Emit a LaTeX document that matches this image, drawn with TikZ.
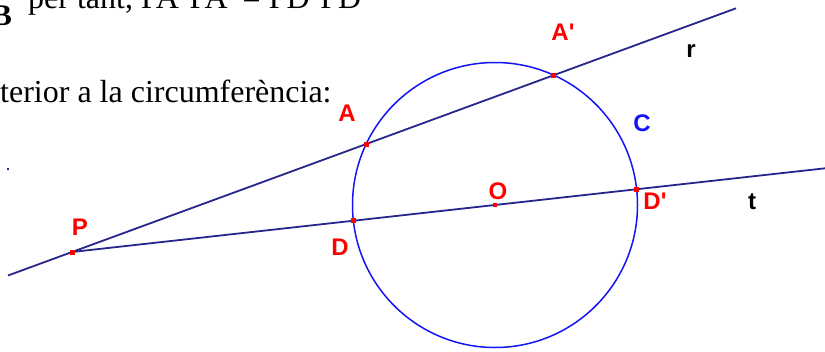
\documentclass[tikz,border=0pt]{standalone}
\usepackage{fontspec}
\setmainfont{Liberation Serif}
\newfontfamily\labfont{Liberation Sans}
\definecolor{navyline}{RGB}{38,38,140}
\definecolor{circblue}{RGB}{20,20,245}

\begin{document}
\begin{tikzpicture}[x=1pt,y=-1pt,
  lbl/.style={font=\labfont\bfseries\fontsize{24}{26}\selectfont,inner sep=0pt},
  pnt/.style={fill=red,inner sep=0pt,minimum size=5pt},
  txt/.style={font=\fontsize{32}{34}\selectfont,inner sep=0pt}]
\useasboundingbox (0,0) rectangle (825,351);
\fill[white] (0,0) rectangle (825,351);

\node[txt,anchor=base east,font=\bfseries\fontsize{30}{32}\selectfont] (bb) at (12,25) {B};
\node[txt,anchor=base west] (tant) at (28,8) {per tant, PA·PA' = PD·PD'};
\node[txt,anchor=base west] (ext) at (0,102) {terior a la circumferència:};

\coordinate (O) at (495,205);
\coordinate (P) at (72,252);
\coordinate (A) at (366.2,144);
\coordinate (A') at (553.8,75.2);
\coordinate (D) at (353.4,220.7);
\coordinate (D') at (636.6,189.3);
\coordinate (r0) at (8,275.5);
\coordinate (r1) at (736,8.3);
\coordinate (t1) at (825,168.3);

\draw[circblue,line width=1.5pt] (O) circle[radius=142.5pt];
\draw[navyline,line width=1.8pt] (r0)--(r1);
\draw[navyline,line width=1.8pt] (P)--(t1);
\node[fill=navyline,inner sep=0pt,minimum size=2.5pt] (spot) at (8,169) {};

\node[pnt] (pP) at (P) {};
\node[pnt] (pA) at (A) {};
\node[pnt] (pA') at (A') {};
\node[pnt] (pD) at (D) {};
\node[pnt] (pD') at (D') {};
\node[pnt,minimum size=4pt] (pO) at (O) {};

\node[lbl,red] (lP) at (80,227) {P};
\node[lbl,red] (lA) at (347,113) {A};
\node[lbl,red] (lA') at (563,32) {A'};
\node[lbl,red] (lO) at (498,191) {O};
\node[lbl,red] (lD) at (340,247) {D};
\node[lbl,red] (lD') at (655,201) {D'};
\node[lbl,circblue] (lC) at (642,123) {C};
\node[lbl] (lr) at (691,51) {r};
\node[lbl] (lt) at (752,202) {t};
\end{tikzpicture}
\end{document}
